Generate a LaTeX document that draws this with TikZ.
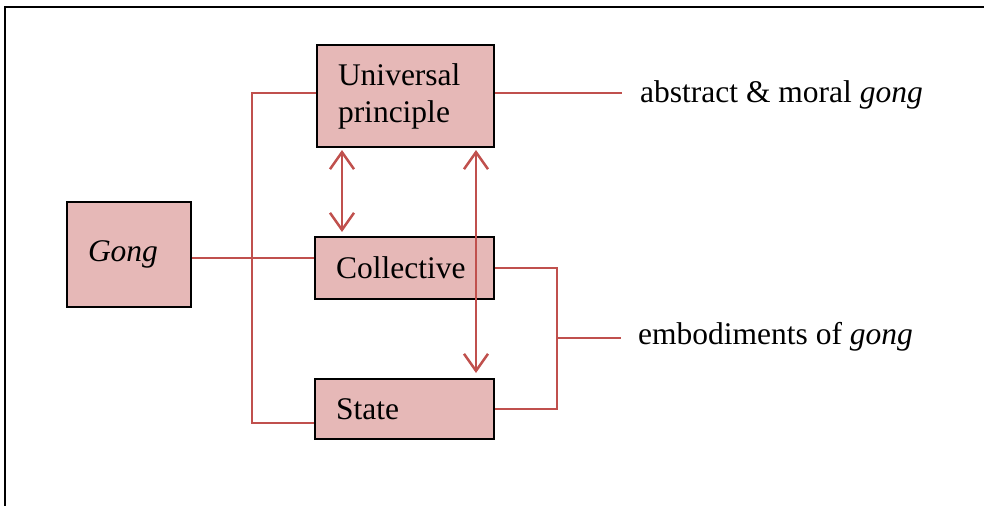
\documentclass[tikz,border=0pt]{standalone}
\usepackage{fontspec}
\setmainfont{Liberation Serif}
\newfontfamily\timesfont{Liberation Serif}
\usetikzlibrary{arrows.meta,calc}
\definecolor{boxfill}{HTML}{E6B8B7}
\definecolor{linkred}{HTML}{C0504D}
\begin{document}
\begin{tikzpicture}[x=1pt,y=-1pt,
  box/.style={draw=black, line width=2pt, fill=boxfill, anchor=north west,
    inner xsep=21pt, inner ysep=0pt, align=left,
    font=\timesfont\fontsize{31.5}{37}\selectfont},
  link/.style={draw=linkred, line width=2pt},
  dbl/.style={draw=linkred, line width=2.5pt, {Straight Barb[length=17pt,width=24pt]}-{Straight Barb[length=17pt,width=24pt]}},
  lbl/.style={anchor=west, inner sep=0pt, font=\timesfont\fontsize{31.5}{37}\selectfont},
  frame/.style={draw=black, line width=2pt}]
\useasboundingbox (0,0) rectangle (984,506);
\draw[frame] (984,7) -- (5,7) -- (5,506);
% boxes
\node[box, text width=135pt, minimum height=102pt] (UP) at (316,44) {Universal\\principle};
\node[box, text width=82pt, minimum height=105pt] (G) at (66,201) {\raisebox{4pt}{\itshape Gong}};
\node[box, text width=137pt, minimum height=62pt] (C) at (314,236) {Collective};
\node[box, text width=137pt, minimum height=60pt] (St) at (314,378) {State};
% labels
\node[lbl] (L1) at (640,95) {abstract \& moral \textit{gong}};
\node[lbl] (L2) at (638,337) {embodiments of \textit{gong}};
% left bracket
\coordinate (jl) at (252,258);
\coordinate (ju) at (252,93);
\draw[link] (UP.west |- ju) -- (ju) -- (jl) |- ($(St.west)+(0,14)$);
\draw[link] (G.east |- jl) -- (C.west |- jl);
% right bracket
\coordinate (jr) at (557,337.5);
\draw[link] (C.east) -| (jr) |- (St.east);
\draw[link] (jr) -- (621,337.5);
\draw[link] (UP.east |- ju) -- (622,93);
% double arrows
\draw[dbl] (342,150) -- (342,232);
\draw[dbl] (476,150) -- (476,373);
\end{tikzpicture}
\end{document}
